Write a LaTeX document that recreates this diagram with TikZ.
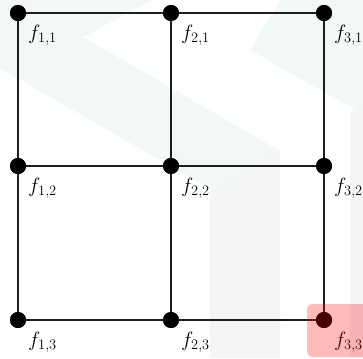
\documentclass[tikz,border=0pt]{standalone}
\usetikzlibrary{calc}
\definecolor{wmgreen}{RGB}{242,249,245}
\definecolor{wmgray}{RGB}{244,245,247}
\definecolor{edgecol}{RGB}{30,30,30}
\tikzset{
  vdot/.style={circle, fill=black, inner sep=0pt, minimum size=16pt},
  flab/.style={anchor=north west, inner sep=0pt, font=\huge},
  gridedge/.style={draw=edgecol, line width=1.8pt},
  hilite/.style={fill=red, fill opacity=0.27, rounded corners=6pt}
}
\begin{document}
\begin{tikzpicture}[x=1pt,y=-1pt]
\clip (0,0) rectangle (363,358);
% faint watermark
\fill[wmgreen] (0,0) -- (153,0) -- (83,37) -- (280,151) -- (210,189) -- (0,68) -- cycle;
\fill[wmgreen] (280,0) -- (363,0) -- (363,114) -- (250,50) -- cycle;
\fill[wmgray] (210,189) -- (280,151) -- (280,358) -- (210,358) -- cycle;
\fill[wmgray] (350,112) -- (363,105) -- (363,358) -- (350,358) -- cycle;
% vertices
\node[vdot] (n11) at (18,13) {};
\node[vdot] (n21) at (171,13) {};
\node[vdot] (n31) at (324,13) {};
\node[vdot] (n12) at (18,166) {};
\node[vdot] (n22) at (171,166) {};
\node[vdot] (n32) at (324,166) {};
\node[vdot] (n13) at (18,320) {};
\node[vdot] (n23) at (171,320) {};
\node[vdot] (n33) at (324,320) {};
% edges
\draw[gridedge] (n11.center) -- (n21.center) -- (n31.center);
\draw[gridedge] (n12.center) -- (n22.center) -- (n32.center);
\draw[gridedge] (n13.center) -- (n23.center) -- (n33.center);
\draw[gridedge] (n11.center) -- (n12.center) -- (n13.center);
\draw[gridedge] (n21.center) -- (n22.center) -- (n23.center);
\draw[gridedge] (n31.center) -- (n32.center) -- (n33.center);
% redraw dots on top of edges
\foreach \p in {n11,n21,n31,n12,n22,n32,n13,n23,n33}{
  \fill[black] (\p.center) circle (8pt);
}
% labels
\node[flab] (l11) at ($(n11.center)+(10,12)$) {$f_{1,1}$};
\node[flab] (l21) at ($(n21.center)+(10,12)$) {$f_{2,1}$};
\node[flab] (l31) at ($(n31.center)+(10,12)$) {$f_{3,1}$};
\node[flab] (l12) at ($(n12.center)+(10,12)$) {$f_{1,2}$};
\node[flab] (l22) at ($(n22.center)+(10,12)$) {$f_{2,2}$};
\node[flab] (l32) at ($(n32.center)+(10,12)$) {$f_{3,2}$};
\node[flab] (l13) at ($(n13.center)+(10,12)$) {$f_{1,3}$};
\node[flab] (l23) at ($(n23.center)+(10,12)$) {$f_{2,3}$};
\node[flab] (l33) at ($(n33.center)+(10,12)$) {$f_{3,3}$};
% highlight
\path[hilite] (307,304) rectangle (375,357);
\end{tikzpicture}
\end{document}
